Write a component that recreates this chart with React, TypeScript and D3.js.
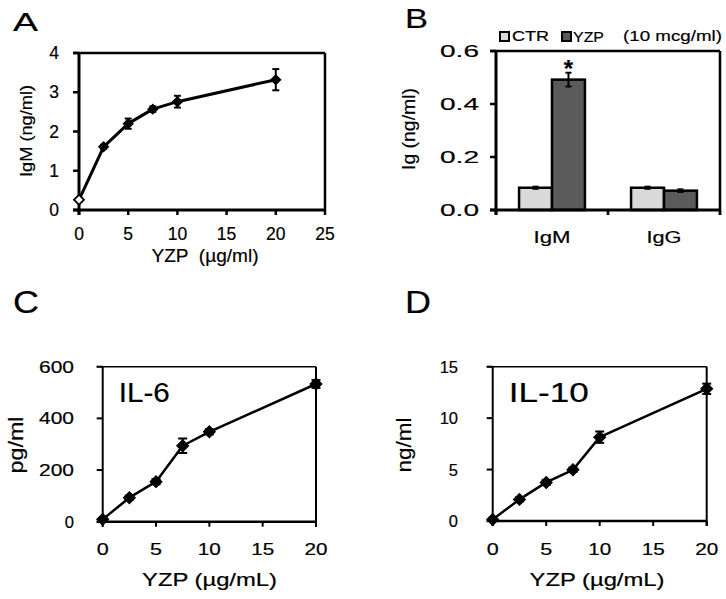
import React from 'react';
import * as d3 from 'd3';

const FONT = "'Liberation Sans', Arial, Helvetica, sans-serif";

// ---------- Panel A ----------
const doseA = [0, 2.5, 5, 7.5, 10, 20];
const igmA = [0.26, 1.61, 2.2, 2.57, 2.76, 3.32];
const igmErrA = [0.03, 0.05, 0.13, 0.07, 0.15, 0.27];
const xTicksA = [0, 5, 10, 15, 20, 25];
const yTicksA = [0, 1, 2, 3, 4];

// ---------- Panel B ----------
const categoriesB = ['IgM', 'IgG'];
const seriesB = ['CTR', 'YZP'];
const ctrB = [0.084, 0.084];
const ctrErrB = [0.004, 0.004];
const yzpB = [0.492, 0.073];
const yzpErrB = [0.026, 0.005];
const yTicksB = [0, 0.2, 0.4, 0.6];
const legendLabelsB = ['CTR', 'YZP', '(10 mcg/ml)'];

// ---------- Panel C ----------
const doseC = [0, 2.5, 5, 7.5, 10, 20];
const il6 = [9, 93, 155, 294, 348, 533];
const il6Err = [5, 8, 10, 28, 10, 15];
const xTicksC = [0, 5, 10, 15, 20];
const yTicksC = [0, 200, 400, 600];

// ---------- Panel D ----------
const doseD = [0, 2.5, 5, 7.5, 10, 20];
const il10 = [0.15, 2.1, 3.75, 4.98, 8.15, 12.85];
const il10Err = [0.15, 0.2, 0.25, 0.2, 0.55, 0.5];
const xTicksD = [0, 5, 10, 15, 20];
const yTicksD = [0, 5, 10, 15];

type TxtProps = {
  x: number; y: number; fs: number; len?: number; rot?: number;
  anchor?: 'start' | 'middle' | 'end'; weight?: string; pre?: boolean; sw?: number; children: React.ReactNode;
};
function Txt({ x, y, fs, len, rot, anchor = 'start', weight, pre, sw = 0.2, children }: TxtProps) {
  const tf = `translate(${x},${y})${rot ? ` rotate(${rot})` : ''}`;
  return (
    <text
      transform={tf}
      fontSize={fs}
      fontFamily={FONT}
      fontWeight={weight}
      textAnchor={anchor}
      textLength={len}
      lengthAdjust={len ? 'spacingAndGlyphs' : undefined}
      style={pre ? { whiteSpace: 'pre' } : undefined}
      fill="#000"
      stroke="#000"
      strokeWidth={sw}
    >
      {children}
    </text>
  );
}

const diamondPath = (r: number) => d3.symbol(d3.symbolSquare, 2 * r * r)() as string;

type Scale = d3.ScaleLinear<number, number>;

function Series({ xs, ys, errs, x, y, lw, r, cap, openFirst }: {
  xs: number[]; ys: number[]; errs: number[]; x: Scale; y: Scale; lw: number; r: number; cap: number; openFirst?: boolean;
}) {
  const pts = xs.map((d, i) => [x(d), y(ys[i])] as [number, number]);
  const line = d3.line()(pts) as string;
  return (
    <g>
      <path d={line} fill="none" stroke="#000" strokeWidth={lw} strokeLinejoin="round" />
      {xs.map((d, i) => {
        const cx = x(d);
        const top = y(ys[i] + errs[i]);
        const bot = y(ys[i] - errs[i]);
        return (
          <g key={i}>
            <line x1={cx} x2={cx} y1={top} y2={bot} stroke="#000" strokeWidth={2} />
            <line x1={cx - cap} x2={cx + cap} y1={top} y2={top} stroke="#000" strokeWidth={2} />
            <line x1={cx - cap} x2={cx + cap} y1={bot} y2={bot} stroke="#000" strokeWidth={2} />
            <path
              d={diamondPath(r)}
              transform={`translate(${cx},${y(ys[i])}) rotate(45)`}
              fill={openFirst && i === 0 ? '#fff' : '#000'}
              stroke="#000"
              strokeWidth={openFirst && i === 0 ? 1.8 : 1}
            />
          </g>
        );
      })}
    </g>
  );
}

function PanelA() {
  const x = d3.scaleLinear([0, 25], [79, 325]);
  const y = d3.scaleLinear([0, 4], [210, 53]);
  const [l, r] = x.range();
  const [b, t] = y.range();
  return (
    <g>
      <Txt x={13} y={31} fs={25} len={25}>A</Txt>
      <line x1={l - 6} x2={r} y1={t} y2={t} stroke="#000" strokeWidth={2.5} />
      <line x1={r} x2={r} y1={t} y2={b} stroke="#000" strokeWidth={2.5} />
      <line x1={l} x2={l} y1={t} y2={b + 5} stroke="#000" strokeWidth={3} />
      <line x1={l - 6} x2={r} y1={b} y2={b} stroke="#000" strokeWidth={3} />
      {yTicksA.map((v) => (
        <g key={v}>
          <line x1={l - 6} x2={l} y1={y(v)} y2={y(v)} stroke="#000" strokeWidth={2.5} />
          <Txt x={59} y={y(v) + 6} fs={17.5} anchor="end">{v}</Txt>
        </g>
      ))}
      {xTicksA.map((v) => (
        <g key={v}>
          <line x1={x(v)} x2={x(v)} y1={b} y2={b + 5} stroke="#000" strokeWidth={2.5} />
          <Txt x={x(v)} y={240} fs={17.5} anchor="middle">{v}</Txt>
        </g>
      ))}
      <Txt x={31.5} y={131} fs={17} len={92} rot={-90} anchor="middle">IgM (ng/ml)</Txt>
      <Txt x={205} y={262} fs={19} len={107} anchor="middle" pre>{'YZP  (µg/ml)'}</Txt>
      <Series xs={doseA} ys={igmA} errs={igmErrA} x={x} y={y} lw={3} r={5} cap={3.5} openFirst />
    </g>
  );
}

function PanelB() {
  const y = d3.scaleLinear([0, 0.6], [210, 51]);
  const xc = d3.scaleBand(categoriesB, [496, 720]);
  const xs = d3.scaleBand(seriesB, [0, xc.bandwidth()]).paddingOuter(0.7);
  const [b, t] = y.range();
  const [l, r] = xc.range();
  const fills: Record<string, string> = { CTR: '#d9d9d9', YZP: '#5a5a5a' };
  const vals: Record<string, number[]> = { CTR: ctrB, YZP: yzpB };
  const errs: Record<string, number[]> = { CTR: ctrErrB, YZP: yzpErrB };
  const xTickPos = [...categoriesB.map((c) => xc(c) as number), r];
  const starX = (xc('IgM') as number) + (xs('YZP') as number) + xs.bandwidth() / 2;
  const starTop = y(yzpB[0] + yzpErrB[0]);
  const tickLabel = d3.format('.1f');
  return (
    <g>
      <Txt x={405} y={28} fs={28} len={23}>B</Txt>
      {/* legend */}
      <rect x={500} y={32} width={9} height={9} fill={fills.CTR} stroke="#000" strokeWidth={2} />
      <Txt x={512} y={41} fs={15} len={37}>{legendLabelsB[0]}</Txt>
      <rect x={562} y={32} width={9} height={9} fill={fills.YZP} stroke="#000" strokeWidth={2} />
      <Txt x={573} y={42} fs={15} len={31}>{legendLabelsB[1]}</Txt>
      <Txt x={623} y={41} fs={15} len={99}>{legendLabelsB[2]}</Txt>
      {/* bars */}
      {categoriesB.map((c, ci) =>
        seriesB.map((s) => {
          const bx = (xc(c) as number) + (xs(s) as number);
          const v = vals[s][ci];
          const e = errs[s][ci];
          const cx = bx + xs.bandwidth() / 2;
          return (
            <g key={c + s}>
              <rect x={bx} y={y(v)} width={xs.bandwidth()} height={b - y(v)} fill={fills[s]} stroke="#000" strokeWidth={2.5} />
              <line x1={cx} x2={cx} y1={y(v + e)} y2={y(v - e)} stroke="#000" strokeWidth={2} />
              <line x1={cx - 3} x2={cx + 3} y1={y(v + e)} y2={y(v + e)} stroke="#000" strokeWidth={2} />
              <line x1={cx - 3} x2={cx + 3} y1={y(v - e)} y2={y(v - e)} stroke="#000" strokeWidth={2} />
            </g>
          );
        })
      )}
      <Txt x={starX} y={starTop + 4} fs={24} anchor="middle" weight="bold" sw={0.2}>*</Txt>
      {/* frame */}
      <line x1={l - 6} x2={r} y1={t} y2={t} stroke="#000" strokeWidth={2.5} />
      <line x1={r} x2={r} y1={t} y2={b + 5} stroke="#000" strokeWidth={2.5} />
      <line x1={l} x2={l} y1={t} y2={b + 5} stroke="#000" strokeWidth={3} />
      <line x1={l - 6} x2={r} y1={b} y2={b} stroke="#000" strokeWidth={3} />
      {xTickPos.map((p, i) => (
        <line key={i} x1={p} x2={p} y1={b} y2={b + 5} stroke="#000" strokeWidth={2.5} />
      ))}
      {yTicksB.map((v) => (
        <g key={v}>
          <line x1={l - 6} x2={l} y1={y(v)} y2={y(v)} stroke="#000" strokeWidth={2.5} />
          <Txt x={479} y={y(v) + 6} fs={17} len={39} anchor="end">{tickLabel(v)}</Txt>
        </g>
      ))}
      {categoriesB.map((c) => (
        <Txt key={c} x={(xc(c) as number) + xc.bandwidth() / 2} y={243} fs={17} len={c === 'IgM' ? 37 : 35} anchor="middle">{c}</Txt>
      ))}
      <Txt x={415} y={129} fs={19} len={82} rot={-90} anchor="middle">Ig (ng/ml)</Txt>
    </g>
  );
}

function CytokinePanel({ letter, lx, x, y, xTicks, yTicks, xs, ys, errs, yTitle, yTitleX, yTitleLen, inner, innerLen, yLabelEnd, yLabelLen, xTitleX }: {
  letter: string; lx: number; x: Scale; y: Scale; xTicks: number[]; yTicks: number[]; xs: number[]; ys: number[]; errs: number[];
  yTitle: string; yTitleX: number; yTitleLen: number; inner: string; innerLen: number; yLabelEnd: number; yLabelLen: (v: number) => number | undefined; xTitleX: number;
}) {
  const [l, r] = x.range();
  const [b, t] = y.range();
  return (
    <g>
      <Txt x={lx} y={313} fs={31} len={26}>{letter}</Txt>
      <line x1={l - 6} x2={r} y1={t} y2={t} stroke="#000" strokeWidth={1.6} />
      <line x1={r} x2={r} y1={t} y2={b + 5} stroke="#000" strokeWidth={2} />
      <line x1={l} x2={l} y1={t} y2={b + 5} stroke="#000" strokeWidth={2} />
      <line x1={l - 6} x2={r} y1={b} y2={b} stroke="#000" strokeWidth={2.5} />
      {yTicks.map((v) => (
        <g key={v}>
          <line x1={l - 6} x2={l} y1={y(v)} y2={y(v)} stroke="#000" strokeWidth={2} />
          <Txt x={yLabelEnd} y={y(v) + 6} fs={16.5} len={yLabelLen(v)} anchor="end">{v}</Txt>
        </g>
      ))}
      {xTicks.map((v) => (
        <g key={v}>
          <line x1={x(v)} x2={x(v)} y1={b} y2={b + 5} stroke="#000" strokeWidth={2} />
          <Txt x={x(v)} y={555} fs={16.5} len={v >= 10 ? 23 : 12} anchor="middle">{v}</Txt>
        </g>
      ))}
      <Txt x={l + 16} y={402} fs={28} len={innerLen}>{inner}</Txt>
      <Txt x={yTitleX} y={445} fs={20} len={yTitleLen} rot={-90} anchor="middle">{yTitle}</Txt>
      <Txt x={xTitleX} y={586} fs={18.5} len={135} anchor="middle">YZP (µg/mL)</Txt>
      <Series xs={xs} ys={ys} errs={errs} x={x} y={y} lw={2.5} r={6} cap={4.5} />
    </g>
  );
}

export default function App() {
  const xC = d3.scaleLinear([0, 20], [102.7, 316]);
  const yC = d3.scaleLinear([0, 600], [521.7, 366.7]);
  const xD = d3.scaleLinear([0, 20], [492.7, 706.7]);
  const yD = d3.scaleLinear([0, 15], [521, 366.7]);
  return (
    <svg
      width={726}
      height={599}
      viewBox="0 0 726 599"
      style={{ position: 'absolute', left: 0, top: 0, background: '#fff' }}
    >
      <rect width={726} height={599} fill="#fff" />
      <PanelA />
      <PanelB />
      <CytokinePanel
        letter="C" lx={13} x={xC} y={yC} xTicks={xTicksC} yTicks={yTicksC}
        xs={doseC} ys={il6} errs={il6Err}
        yTitle="pg/ml" yTitleX={23} yTitleLen={57}
        inner="IL-6" innerLen={51}
        yLabelEnd={74} yLabelLen={(v) => (v >= 100 ? 35 : undefined)}
        xTitleX={209.5}
      />
      <CytokinePanel
        letter="D" lx={405} x={xD} y={yD} xTicks={xTicksD} yTicks={yTicksD}
        xs={doseD} ys={il10} errs={il10Err}
        yTitle="ng/ml" yTitleX={411} yTitleLen={55}
        inner="IL-10" innerLen={80}
        yLabelEnd={458} yLabelLen={() => undefined}
        xTitleX={597}
      />
    </svg>
  );
}
